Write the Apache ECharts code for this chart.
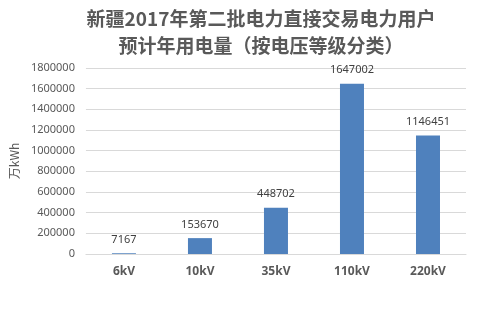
<!DOCTYPE html>
<html><head><meta charset="utf-8">
<script src="https://cdn.jsdelivr.net/npm/echarts@6/dist/echarts.min.js"></script>
<style>html,body{margin:0;padding:0;background:#fff}#c{width:480px;height:319px}</style>
</head><body><div id="c"></div>
<script>
const categories = ['6kV','10kV','35kV','110kV','220kV'];
const values = [7167, 153670, 448702, 1647002, 1146451];
const titleLines = ['新疆2017年第二批电力直接交易电力用户', '预计年用电量（按电压等级分类）'];
const yName = '万kWh';

const chart = echarts.init(document.getElementById('c'), null, {renderer:'canvas'});
chart.setOption({
  animation:false,
  backgroundColor:'#fff',
  title:{
    text: titleLines.join('\n'),
    left: 256, top: 0, textAlign:'center',
    textStyle:{fontFamily:'Noto Sans CJK SC', fontSize:19, fontWeight:'bold', color:'#595959', lineHeight:27}
  },
  grid:{left:78, right:14, top:68, bottom:65, containLabel:false},
  xAxis:{
    type:'category', data:categories,
    axisLine:{show:true, lineStyle:{color:'#d9d9d9'}},
    axisTick:{show:false},
    axisLabel:{margin:12, fontFamily:'Noto Sans', fontSize:12, fontWeight:'bold', color:'#595959'}
  },
  yAxis:{
    type:'value', min:0, max:1800000, interval:200000,
    name:yName, nameLocation:'middle', nameGap:62, nameRotate:90,
    nameTextStyle:{fontFamily:'Noto Sans CJK SC', fontSize:12, color:'#595959'},
    axisLine:{show:false}, axisTick:{show:false},
    axisLabel:{margin:11, fontFamily:'Noto Sans', fontSize:11, color:'#595959', formatter:v=>String(v)},
    splitLine:{lineStyle:{color:'#d9d9d9'}}
  },
  series:[{
    type:'bar', data:values, barWidth:24,
    itemStyle:{color:'#4f81bd'},
    label:{show:true, position:'top', distance:8, fontFamily:'Noto Sans', fontSize:11, color:'#404040'}
  }]
});
</script></body></html>
